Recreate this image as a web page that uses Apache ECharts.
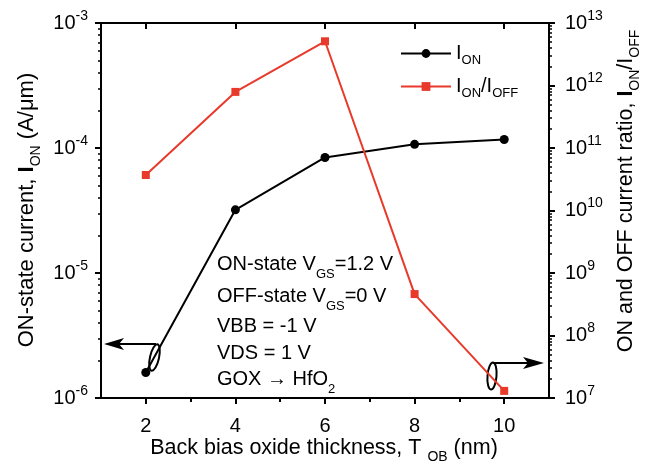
<!DOCTYPE html>
<html><head><meta charset="utf-8">
<script src="https://cdn.jsdelivr.net/npm/echarts@6/dist/echarts.min.js"></script>
<style>html,body{margin:0;padding:0;background:#fff}#c{width:648px;height:471px}</style>
</head><body><div id="c"></div>
<script>
// ---- data ----
const thickness = [2, 4, 6, 8, 10];
const ionCurrent = [1.6e-6, 3.2e-5, 8.4e-5, 1.07e-4, 1.17e-4];
const onOffRatio = [3.7e10, 7.9e11, 5.1e12, 4.6e8, 1.3e7];
const xTickLabels = [2, 4, 6, 8, 10];
const xMinorTicks = [3, 5, 7, 9];
const leftDecades = [-6, -5, -4, -3];
const rightDecades = [7, 8, 9, 10, 11, 12, 13];

const F = 'Liberation Sans';
const BLACK = '#000';
const RED = '#e8392b';

function minorLogTicks(decades) {
  const out = [];
  for (let i = 0; i < decades.length - 1; i++) {
    for (let k = 2; k <= 9; k++) out.push(decades[i] + Math.log10(k));
  }
  return out;
}
const supFmt = v => '{b|10}{sup|' + Math.round(Math.log10(v)) + '}';
const supRich = {
  b: { fontSize: 20, fontFamily: F, color: BLACK, lineHeight: 24 },
  sup: { fontSize: 14, fontFamily: F, color: BLACK, lineHeight: 14, padding: [0, 0, 14, 0] }
};

const chart = echarts.init(document.getElementById('c'), null, { renderer: 'canvas' });
const grid = { left: 101, right: 99, top: 23, bottom: 73 };

const option = {
  animation: false,
  backgroundColor: '#fff',
  grid: grid,
  xAxis: [
    {
      type: 'value', min: 1, max: 11, position: 'bottom',
      axisLine: { onZero: false, lineStyle: { color: BLACK, width: 2 } },
      axisTick: { customValues: xTickLabels, length: 6, inside: false, lineStyle: { color: BLACK, width: 2 } },
      axisLabel: { customValues: xTickLabels, margin: 18, fontSize: 20, fontFamily: F, color: BLACK },
      splitLine: { show: false }
    },
    {
      type: 'value', min: 1, max: 11, position: 'bottom',
      axisLine: { show: false, onZero: false },
      axisTick: { customValues: xMinorTicks, length: 4, lineStyle: { color: BLACK, width: 2 } },
      axisLabel: { show: false },
      splitLine: { show: false }
    },
    {
      type: 'value', min: 1, max: 11, position: 'top',
      axisLine: { onZero: false, lineStyle: { color: BLACK, width: 2 } },
      axisTick: { customValues: xTickLabels, length: 6, inside: true, lineStyle: { color: BLACK, width: 2 } },
      axisLabel: { show: false },
      splitLine: { show: false }
    }
  ],
  yAxis: [
    {
      type: 'log', logBase: 10, min: 1e-6, max: 1e-3, position: 'left',
      axisLine: { onZero: false, lineStyle: { color: BLACK, width: 2 } },
      axisTick: { length: 6, lineStyle: { color: BLACK, width: 2 } },
      axisLabel: { formatter: supFmt, rich: supRich, margin: 13 },
      splitLine: { show: false }
    },
    {
      type: 'log', logBase: 10, min: 1e7, max: 1e13, position: 'right',
      axisLine: { onZero: false, lineStyle: { color: BLACK, width: 2 } },
      axisTick: { length: 6, lineStyle: { color: BLACK, width: 2 } },
      axisLabel: { formatter: supFmt, rich: supRich, margin: 16 },
      splitLine: { show: false }
    },
    {
      type: 'value', min: -6, max: -3, position: 'left',
      axisLine: { show: false, onZero: false },
      axisTick: { customValues: minorLogTicks(leftDecades), length: 3, lineStyle: { color: BLACK, width: 1.5 } },
      axisLabel: { show: false }, splitLine: { show: false }
    },
    {
      type: 'value', min: 7, max: 13, position: 'right',
      axisLine: { show: false, onZero: false },
      axisTick: { customValues: minorLogTicks(rightDecades), length: 3, lineStyle: { color: BLACK, width: 1.5 } },
      axisLabel: { show: false }, splitLine: { show: false }
    }
  ],
  legend: {
    left: 400, top: 40, padding: 0, orient: 'vertical', itemWidth: 50, itemHeight: 11, itemGap: 6,
    data: ['ion', 'ratio'],
    formatter: name => name === 'ion' ? '{m|I}{s|ON}' : '{m|I}{s|ON}{m|/I}{s|OFF}',
    textStyle: {
      rich: {
        m: { fontSize: 20, fontFamily: F, color: BLACK, lineHeight: 22 },
        s: { fontSize: 13, fontFamily: F, color: BLACK, lineHeight: 13, padding: [14, 0, 0, 0] }
      }
    }
  },
  series: [
    {
      name: 'ion', type: 'line', xAxisIndex: 0, yAxisIndex: 0,
      data: thickness.map((x, i) => [x, ionCurrent[i]]),
      symbol: 'circle', symbolSize: 9,
      lineStyle: { color: BLACK, width: 2 }, itemStyle: { color: BLACK }
    },
    {
      name: 'ratio', type: 'line', xAxisIndex: 0, yAxisIndex: 1,
      data: thickness.map((x, i) => [x, onOffRatio[i]]),
      symbol: 'rect', symbolSize: 8,
      lineStyle: { color: RED, width: 2 }, itemStyle: { color: RED }
    }
  ],
  graphic: [
    // axis titles
    {
      type: 'text', x: 27, y: 210, rotation: Math.PI / 2,
      style: {
        text: '{m|ON-state current, }{b|I}{s|ON}{m| (A/μm)}',
        align: 'center', verticalAlign: 'middle', fill: BLACK,
        rich: {
          m: { fontSize: 22, fontFamily: F, fill: BLACK, lineHeight: 26 },
          b: { fontSize: 22, fontFamily: F, fontWeight: 'bold', fill: BLACK, lineHeight: 26 },
          s: { fontSize: 14, fontFamily: F, fill: BLACK, lineHeight: 14, padding: [18, 0, 0, 0] }
        }
      }
    },
    {
      type: 'text', x: 626, y: 191, rotation: Math.PI / 2,
      style: {
        text: '{m|ON and OFF current ratio, }{b|I}{s|ON}{m|/I}{s|OFF}',
        align: 'center', verticalAlign: 'middle', fill: BLACK,
        rich: {
          m: { fontSize: 21.5, fontFamily: F, fill: BLACK, lineHeight: 26 },
          b: { fontSize: 21.5, fontFamily: F, fontWeight: 'bold', fill: BLACK, lineHeight: 26 },
          s: { fontSize: 14, fontFamily: F, fill: BLACK, lineHeight: 14, padding: [18, 0, 0, 0] }
        }
      }
    },
    {
      type: 'text', x: 324, y: 448,
      style: {
        text: '{m|Back bias oxide thickness, T }{s|OB}{m| (nm)}',
        align: 'center', verticalAlign: 'middle', fill: BLACK,
        rich: {
          m: { fontSize: 21.5, fontFamily: F, fill: BLACK, lineHeight: 26 },
          s: { fontSize: 14, fontFamily: F, fill: BLACK, lineHeight: 14, padding: [18, 0, 0, 0] }
        }
      }
    },
    // annotation text
    ...[
      ['{m|ON-state V}{s|GS}{m|=1.2 V}', 264],
      ['{m|OFF-state V}{s|GS}{m|=0 V}', 296],
      ['{m|VBB = -1 V}', 326],
      ['{m|VDS = 1 V}', 353],
      ['{m|GOX → HfO}{s|2}', 379]
    ].map(([t, y]) => ({
      type: 'text', x: 217, y: y,
      style: {
        text: t, align: 'left', verticalAlign: 'middle', fill: BLACK,
        rich: {
          m: { fontSize: 20, fontFamily: F, fill: BLACK, lineHeight: 24 },
          s: { fontSize: 13, fontFamily: F, fill: BLACK, lineHeight: 13, padding: [20, 0, 0, 0] }
        }
      }
    })),
    // left arrow + ellipse
    { type: 'line', shape: { x1: 156, y1: 344, x2: 115, y2: 344 }, style: { stroke: BLACK, lineWidth: 2 } },
    { type: 'polygon', shape: { points: [[104, 344], [124, 338], [119, 344], [124, 350]] }, style: { fill: BLACK } },
    { type: 'ellipse', x: 154.5, y: 357.5, rotation: -0.22, shape: { cx: 0, cy: 0, rx: 4.5, ry: 13.5 }, style: { stroke: BLACK, lineWidth: 2, fill: null } },
    // right arrow + ellipse
    { type: 'line', shape: { x1: 493, y1: 363, x2: 532, y2: 363 }, style: { stroke: BLACK, lineWidth: 2 } },
    { type: 'polygon', shape: { points: [[544, 363], [523, 357], [528, 363], [523, 369]] }, style: { fill: BLACK } },
    { type: 'ellipse', x: 492, y: 376, rotation: -0.08, shape: { cx: 0, cy: 0, rx: 4.5, ry: 13.5 }, style: { stroke: BLACK, lineWidth: 2, fill: null } }
  ]
};
chart.setOption(option);
</script>
</body></html>
